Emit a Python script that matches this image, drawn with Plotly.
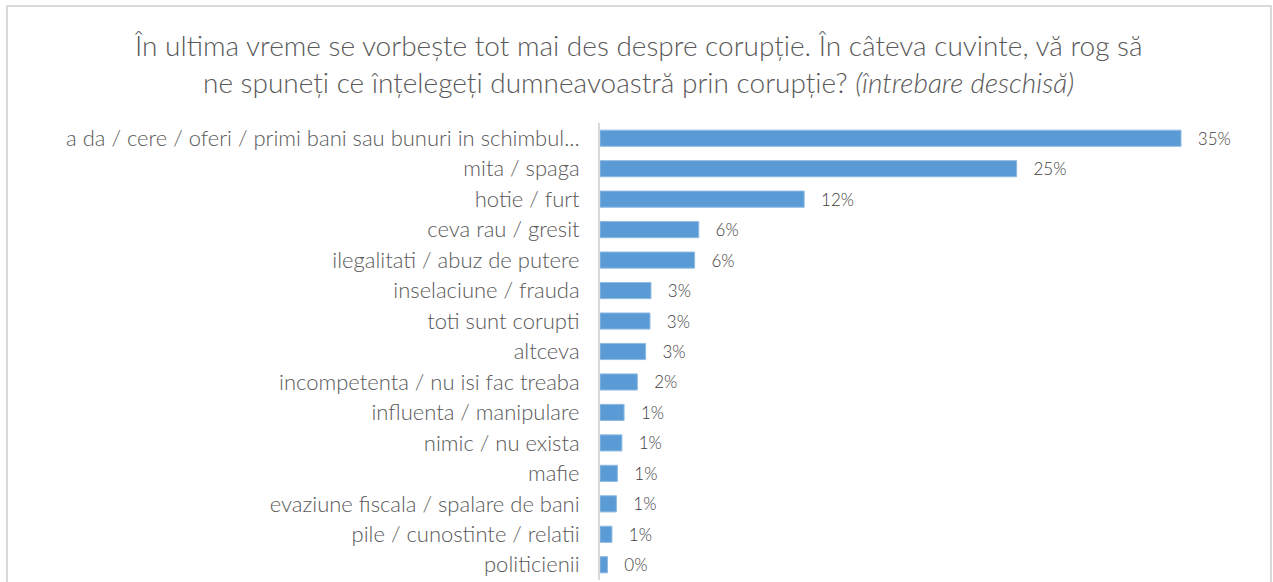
import plotly.graph_objects as go

categories = [
    "a da / cere / oferi / primi bani sau bunuri in schimbul...",
    "mita / spaga",
    "hotie / furt",
    "ceva rau / gresit",
    "ilegalitati / abuz de putere",
    "inselaciune / frauda",
    "toti sunt corupti",
    "altceva",
    "incompetenta / nu isi fac treaba",
    "influenta / manipulare",
    "nimic / nu exista",
    "mafie",
    "evaziune fiscala / spalare de bani",
    "pile / cunostinte / relatii",
    "politicienii",
]
values = [35.0, 25.1, 12.3, 5.95, 5.7, 3.07, 3.01, 2.75, 2.25, 1.45, 1.32, 1.05, 0.99, 0.72, 0.45]
value_labels = ["35%", "25%", "12%", "6%", "6%", "3%", "3%", "3%", "2%", "1%", "1%", "1%", "1%", "1%", "0%"]

title_line1 = "În ultima vreme se vorbește tot mai des despre corupție. În câteva cuvinte, vă rog să"
title_line2 = "ne spuneți ce înțelegeți dumneavoastră prin corupție? <i>(întrebare deschisă)</i>"

W, H = 1273, 582
ml, mr, mt, mb = 600, 9, 123, 2
pw = W - ml - mr
ph = H - mt - mb

def px_x(px):
    return (px - ml) / pw

def px_y(py):
    return (H - mb - py) / ph

FONT = "Lato"

fig = go.Figure()
fig.add_trace(go.Bar(
    y=categories,
    x=values,
    orientation="h",
    marker=dict(color="#5b9bd5", line=dict(color="#8fbbe3", width=1)),
    text=["\u00a0\u00a0\u00a0" + t for t in value_labels],
    textposition="outside",
    constraintext="none",
    cliponaxis=False,
    textfont=dict(family=FONT, size=17, color="#404040", weight=300),
    hoverinfo="skip",
))

fig.update_layout(
    width=W, height=H,
    margin=dict(l=ml, r=mr, t=mt, b=mb),
    paper_bgcolor="white",
    plot_bgcolor="white",
    showlegend=False,
    bargap=0.47,
    xaxis=dict(range=[0, 40], visible=False, fixedrange=True),
    yaxis=dict(
        autorange="reversed",
        showline=True, linecolor="#d9d9d9", linewidth=2,
        showgrid=False, ticks="",
        ticklabelstandoff=14,
        tickfont=dict(family=FONT, size=22, color="#595959", weight=300),
        fixedrange=True,
    ),
    shapes=[dict(
        type="rect", xref="paper", yref="paper",
        x0=px_x(7), x1=px_x(1271), y0=px_y(600), y1=px_y(6),
        line=dict(color="#d9d9d9", width=2), fillcolor="rgba(0,0,0,0)", layer="below",
    )],
    annotations=[
        dict(text=title_line1, xref="paper", yref="paper", x=px_x(638), y=px_y(45),
             xanchor="center", yanchor="middle", showarrow=False,
             font=dict(family=FONT, size=28, color="#595959", weight=300)),
        dict(text=title_line2, xref="paper", yref="paper", x=px_x(638), y=px_y(82),
             xanchor="center", yanchor="middle", showarrow=False,
             font=dict(family=FONT, size=28, color="#595959", weight=300)),
    ],
)

fig.write_html("out.html", config={"displayModeBar": False},
               post_script="document.body.style.margin='0';document.body.style.overflow='hidden';")
